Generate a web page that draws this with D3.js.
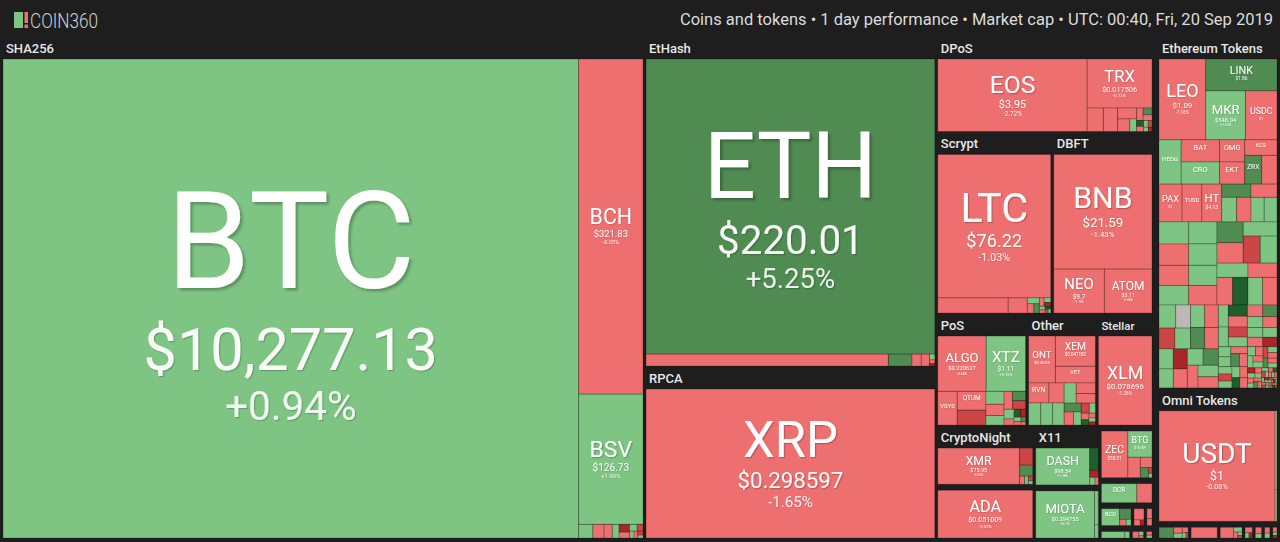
<!DOCTYPE html>
<html>
<head>
<meta charset="utf-8">
<script src="https://cdnjs.cloudflare.com/ajax/libs/d3/7.8.5/d3.min.js"></script>
<style>
html, body { margin: 0; padding: 0; background: #1d1e1d; }
svg { display: block; font-family: Roboto, "Noto Sans", sans-serif; }
</style>
</head>
<body>
<svg id="chart" width="1280" height="542">
  <defs>
    <filter id="ts-big" x="-10%" y="-10%" width="130%" height="140%"><feDropShadow dx="2.5" dy="2.5" stdDeviation="0.8" flood-color="#000" flood-opacity="0.25"/></filter>
    <filter id="ts-mid" x="-10%" y="-10%" width="130%" height="140%"><feDropShadow dx="1.2" dy="1.2" stdDeviation="0.5" flood-color="#000" flood-opacity="0.22"/></filter>
    <filter id="ts-small" x="-10%" y="-10%" width="130%" height="140%"><feDropShadow dx="0.6" dy="0.6" stdDeviation="0.3" flood-color="#000" flood-opacity="0.2"/></filter>
  </defs>
</svg>
<script>
/* coins: [symbol, tile weight (market cap share as drawn), 1 day change %, price $]
   tails: [tile weight, 1 day change %] for the small unnamed coins */
var sha256Coins = [["BTC", 270800, 0.94, 10277.13], ["BCH", 21200, -0.05, 321.83], ["BSV", 8240, 1.99, 126.73]];
var sha256Tail = [[190, 1.2], [150, -2.1], [110, -1.5], [90, 0.8], [80, -12.4], [60, -3.2], [50, 2.1], [40, -6.3], [30, 4.4], [25, -1.1], [20, -8.5], [15, 3.2]];

var ethashCoins = [["ETH", 83700, 5.25, 220.01], ["ETC", 2830, -1.8, 6.63]];
var ethashTail = [[276, 6.5], [108, -2.3], [96, -1.4], [30, 1.1], [20, -4.2], [12, -15.6]];

var rpcaCoins = [["XRP", 42250, -1.65, 0.298597]];

var dposCoins = [["EOS", 10660, -2.72, 3.95], ["TRX", 3130, -0.12, 0.017506], ["NANO", 374, -1.5, 0.93], ["BTS", 204, -1.9, 0.0352]];
var dposTail = [[330, -2.2], [150, -3.1], [84, 1.5], [80, -1.2], [60, 7.1], [50, -2.4], [40, 12.3], [35, -4.2], [30, 2.2], [25, -6.1], [20, 1.1], [15, -11.2]];

var scryptCoins = [["LTC", 15960, -1.03, 76.22]];
var scryptTail = [[1050, -1.2], [285, -0.9], [70, 2.1], [60, -3.1], [50, 8.2], [40, -1.3], [30, 1.5], [25, -12.1], [20, 3.3], [18, -2.2], [15, 11.4], [12, -6.2], [10, 2.4]];

var dbftCoins = [["BNB", 11090, -1.43, 21.59], ["NEO", 2190, -1.9, 9.7], ["ATOM", 2060, -0.85, 3.11]];

var posCoins = [["ALGO", 2640, -4.68, 0.220627], ["XTZ", 2145, 3.15, 1.11], ["VSYS", 646, -2.4, 0.1959], ["QTUM", 532, -1.4, 2.19]];
var posTail = [[420, -7.2], [230, 2.1], [200, -1.5], [170, 4.2], [150, -3.1], [120, 9.1], [110, -8.2], [95, 1.1], [60, -2.1], [50, 12.2], [40, -13.1], [30, 2.3], [25, -4.4], [20, 6.1], [15, -1.2]];

var otherCoins = [["ONT", 1240, -1.35, 0.8293], ["XEM", 1190, -1.95, 0.047182], ["VET", 656, -1.96, 0.003952], ["RVN", 400, -2.6, 0.0371]];
var otherTail = [[300, -1.1], [264, 1.8], [260, 2.3], [250, 0.6], [240, 1.2], [200, -3.1], [180, -2.2], [150, 8.1], [120, -1.4], [100, 3.2], [80, -9.1], [60, 1.3], [50, -4.2], [40, 14.1], [30, -2.3], [25, 2.2], [20, -12.2]];

var stellarCoins = [["XLM", 4700, -1.28, 0.078696]];

var cryptonightCoins = [["XMR", 2916, -3.06, 75.95]];
var cryptonightTail = [[221, -6.3], [143, 6.2], [40, -2.1], [30, 1.2], [20, -8.1], [15, 3.1]];

var adaCoins = [["ADA", 4470, -2.02, 0.051009]];

var x11Coins = [["DASH", 1960, 1.38, 98.54]];
var x11Tail = [[190, 13.2], [60, -11.1], [40, 2.2], [25, -3.3]];

var iotaCoins = [["MIOTA", 2726, 0.1, 0.294755]];
var iotaTail = [[130, 0.8], [50, 2.1]];

var equihashCoins = [["ZEC", 1222, -1.1, 55.91], ["BTG", 624, 2, 10.89]];
var equihashTail = [[252, -1.3], [120, -2.2], [80, 6.1], [20, -9.2], [15, 2.1]];

var decredCoins = [["DCR", 665, 1.72, 23.49]];
var decredTail = [[285, -1.5]];

var x13Coins = [["BCD", 304, 1.2, 0.63]];
var x13Tail = [[120, 7.1], [40, -2.3], [30, 1.1]];
var lyraTail = [[110, -1.6], [35, -2.2], [20, -11.4]];
var groestlTail = [[50, -1.3], [34, -2.1]];
var quarkTail = [[150, 1.5], [30, 0.6]];
var neoscryptTail = [[40, -2.1], [20, 3.2], [10, -1.1]];
var lyra2zTail = [[20, -1.4], [15, 2.2]];

var erc20Top = [["LEO", 3726, -1.16, 1.09], ["LINK", 2240, 6.78, 1.86], ["MKR", 1911, 1.52, 548.04], ["USDC", 1519, -0.1, 1]];
var erc20Mid = [["HEDG", 968, 0.55, 1.39], ["BAT", 836, -0.55, 0.206868], ["CRO", 836, 1.55, 0.039289],
  ["OMG", 550, -1.24, 1.12], ["EKT", 550, -1.02, 0.0143], ["KCS", 495, -1.8, 1.11], ["ZRX", 480, 7.3, 0.245]];
var erc20MidTail = [[435, -1.7]];
var erc20Low = [["PAX", 860, -0.03, 1], ["TUSD", 740, -0.09, 1], ["HT", 740, -0.87, 4.13]];
var erc20LowTail = [[380, 6.2], [360, 1.4], [350, -1.3], [340, -2.1], [320, 1.9], [310, 0.8]];
var erc20Tail = [
  [646, 1.3], [624, -1.7], [611, 2.6], [597, 0.8], [588, -2.9], [572, 3.4], [561, 1.9], [545, -0.6], [538, 6.3], [527, -1.2],
  [469, 2.8], [454, -7.5], [446, 0.9], [438, 1.6], [426, -2.3], [417, 11.4], [409, -0.4], [398, 4.2], [390, -1.9], [381, 1.1],
  [336, 0], [327, -6.8], [321, 2.2], [312, 1.4], [305, -3.1], [298, 8.3], [289, -0.8], [283, 0.5], [276, -12.6], [268, 3.7],
  [261, -1.3], [253, 1.9], [247, 6.9], [238, -2.6], [231, 0.3], [223, -4.4], [217, 2.9], [209, 14.2], [202, -0.9], [194, 1.6],
  [188, -8.1], [181, 2.5], [176, -1.7], [167, 0.8], [162, 5.6], [154, -3.5], [148, 1.3], [143, -0.2], [136, 3.1], [131, -10.4],
  [124, 0.6], [119, 2.1], [114, -2.4], [109, 7.7], [104, -1.2], [99, 1.7], [95, -5.3], [91, 0.4], [87, 2.6], [84, -1.8],
  [79, 12.1], [77, -0.7], [72, 1.0], [69, -3.8], [64, 4.5], [61, -1.5], [58, 0.2], [55, -6.2], [52, 2.8], [49, -0.5],
  [47, 9.4], [44, -2.1], [42, 1.4], [39, -14.8], [37, 0.9], [35, -1.0], [33, 3.4], [31, -4.1], [29, 1.2], [27, -0.3],
  [26, 6.3], [24, -2.7], [23, 0.7], [21, -9.2], [20, 2.0], [19, -1.4], [17, 15.3], [16, -0.6], [15, 1.8], [14, -3.3],
  [13, 0.4], [12, -11.1], [11, 2.2], [10, -1.9], [10, 5.1], [9, -0.8], [9, 1.1], [8, -6.6], [8, 3.0], [7, -2.3],
  [7, 1.5], [7, -12.4], [6, 0.9], [6, -1.6], [6, 7.2], [6, -3.9], [5, 2.4], [5, -0.7], [5, 11.8], [5, -5.5]
];

var omniCoins = [["USDT", 12630, -0.08, 1]];
var omniTail = [[150, 0.5], [60, 1.2]];

var tronTail = [[155, 6.1], [50, -2.2], [40, 1.5], [30, -1.1], [20, 3.2], [12, -8.3]];
var bep2Tail = [[275, -1.4]];
var wavesTail = [[140, -1.6], [40, 2.1], [25, -3.2], [15, 1.1], [10, -9.4]];
var neoTokTail = [[40, -2.2], [20, 3.1], [17, -12.3]];
var eosTokTail = [[40, -1.5], [26, 1.1]];
var qtumTokTail = [[30, -3.1], [25, 2.2]];
var ontTokTail = [[20, -1.2], [14, 4.1], [10, -10.2]];

var headerText = "Coins and tokens \u2022 1 day performance \u2022 Market cap \u2022 UTC: 00:40, Fri, 20 Sep 2019";

/* ---------- build the hierarchy ---------- */
function leavesOf(coins, tail) {
  var kids = (coins || []).map(function (c) { return { name: c[0], value: c[1], change: c[2], price: c[3] }; })
    .concat((tail || []).map(function (t) { return { value: t[0], change: t[1] }; }));
  kids.sort(function (a, b) { return b.value - a.value; });
  return kids;
}
function group(name, coins, tail, labeled) {
  return { name: name, group: true, labeled: labeled, children: leavesOf(coins, tail) };
}
// a group whose coins come in bands stacked top to bottom
function stackGroup(name, bands, labeled) {
  return { name: name, group: true, labeled: labeled, stack: true,
    children: bands.map(function (b) { return { children: leavesOf(b[0], b[1]) }; }) };
}
function box(dir, children, pad) { return { dir: dir, children: children, pad: pad }; }

var tree = box("h", [
  group("SHA256", sha256Coins, sha256Tail, true),
  box("v", [group("EtHash", ethashCoins, ethashTail, true), group("RPCA", rpcaCoins, null, true)]),
  box("h", [
    box("v", [
      group("DPoS", dposCoins, dposTail, true),
      box("h", [group("Scrypt", scryptCoins, scryptTail, true), group("DBFT", dbftCoins, null, true)]),
      box("h", [group("PoS", posCoins, posTail, true), group("Other", otherCoins, otherTail, true), group("Stellar", stellarCoins, null, true)]),
      box("h", [
        box("v", [group("CryptoNight", cryptonightCoins, cryptonightTail, true), group("Ouroboros", adaCoins, null, false)]),
        box("v", [group("X11", x11Coins, x11Tail, true), group("Tangle", iotaCoins, iotaTail, false)]),
        box("v", [
          group("Equihash", equihashCoins, equihashTail, false),
          group("Blake256", decredCoins, decredTail, false),
          box("h", [group("X13", x13Coins, x13Tail, false), group("Lyra2REv3", null, lyraTail, false), group("Groestl", null, groestlTail, false)]),
          box("h", [group("Quark", null, quarkTail, false), group("NeoScrypt", null, neoscryptTail, false), group("Lyra2Z", null, lyra2zTail, false)])
        ])
      ])
    ]),
    box("v", [
      stackGroup("Ethereum Tokens", [[erc20Top, null], [erc20Mid, erc20MidTail], [erc20Low, erc20LowTail], [null, erc20Tail]], true),
      group("Omni Tokens", omniCoins, omniTail, true),
      box("h", [group("TRON Tokens", null, tronTail, false), group("BEP2", null, bep2Tail, false), group("Waves Tokens", null, wavesTail, false),
        group("NEO Tokens", null, neoTokTail, false), group("EOS Tokens", null, eosTokTail, false), group("Qtum Tokens", null, qtumTokTail, false),
        group("Ontology Tokens", null, ontTokTail, false)])
    ])
  ], 7)
]);

var W = 1274, H = 499;
function innerPad(n) { return n.data.dir ? (n.data.pad || 3) : 0; }
function topPad(n) { return n.data.group ? (n.data.labeled ? 20 : 3) : 0; }

var root = d3.hierarchy(tree).sum(function (d) { return d.children ? 0 : d.value; });

// fixed pixels (labels, gaps) each node spends outside its cells
root.eachAfter(function (n) {
  if (!n.children) { n.oh = { w: 0, h: 0 }; return; }
  if (!n.data.dir) { n.oh = { w: 0, h: topPad(n) }; return; }
  var P = innerPad(n), k = n.children, gaps = P * (k.length - 1);
  var avg = function (f) { return d3.sum(k, function (c) { return f(c) * c.value; }) / n.value; };
  if (n.data.dir === "v") n.oh = { w: avg(function (c) { return c.oh.w; }), h: d3.sum(k, function (c) { return c.oh.h; }) + gaps };
  else n.oh = { w: d3.sum(k, function (c) { return c.oh.w; }) + gaps, h: avg(function (c) { return c.oh.h; }) };
});

// slice / dice that keeps cell areas proportional after labels and gaps are taken out
function tile(node, x0, y0, x1, y1) {
  if (node.data.stack) return d3.treemapSlice(node, x0, y0, x1, y1);
  if (!node.data.dir) return d3.treemapBinary(node, x0, y0, x1, y1);
  var P = innerPad(node), kids = node.children, vert = node.data.dir === "v";
  var cross = (vert ? x1 - x0 : y1 - y0) - P;
  var fixed = kids.map(function (k) { return (vert ? k.oh.h : k.oh.w) + P; });
  var wts = kids.map(function (k) { return k.value / Math.max(1, cross - (vert ? k.oh.w : k.oh.h)); });
  var free = (vert ? y1 - y0 : x1 - x0) - d3.sum(fixed), tw = d3.sum(wts);
  var pos = vert ? y0 : x0;
  kids.forEach(function (k, i) {
    var len = fixed[i] + free * wts[i] / tw;
    if (vert) { k.x0 = x0; k.x1 = x1; k.y0 = pos; k.y1 = pos + len; }
    else { k.y0 = y0; k.y1 = y1; k.x0 = pos; k.x1 = pos + len; }
    pos += len;
  });
}

d3.treemap().tile(tile).size([W, H]).paddingInner(innerPad).paddingTop(topPad)(root);

/* ---------- draw ---------- */
var svg = d3.select("#chart");
var color = d3.scaleThreshold().domain([-10, -5, 0, 5, 10])
  .range(["#a8262a", "#cc4646", "#ee6f6f", "#7ec483", "#508b52", "#1f5f2c"]);
var fmt = d3.format(",");
var ctx = document.createElement("canvas").getContext("2d");
function textW(str, size, weight) {
  ctx.font = (weight || 400) + " " + size + "px Roboto";
  return ctx.measureText(str).width;
}

// header
var head = svg.append("g");
head.append("rect").attr("x", 14).attr("y", 12).attr("width", 9).attr("height", 16).attr("fill", "#7ec483");
head.append("rect").attr("x", 24.5).attr("y", 12).attr("width", 3.5).attr("height", 11).attr("fill", "#ee6f6f");
head.append("rect").attr("x", 24.5).attr("y", 24.5).attr("width", 3.5).attr("height", 3.5).attr("fill", "#ee6f6f");
head.append("text").attr("x", 30).attr("y", 28).attr("font-size", 21).attr("font-weight", 300)
  .attr("fill", "#d0d0d0").attr("textLength", 68).attr("lengthAdjust", "spacingAndGlyphs").text("COIN360");
head.append("text").attr("x", 1273).attr("y", 25).attr("text-anchor", "end").attr("font-size", 16.5)
  .attr("fill", "#dcdcdc").text(headerText);

var g = svg.append("g").attr("transform", "translate(3,39)");

// group labels
var groupNodes = root.descendants().filter(function (d) { return d.data.group && d.data.labeled; });
g.selectAll("text.glabel").data(groupNodes).join("text")
  .attr("class", "glabel")
  .attr("x", function (d) { return d.x0 + 3; })
  .attr("y", function (d) { return d.y0 + 14; })
  .attr("font-size", function (d) { return Math.min(13, (d.x1 - d.x0) * 0.215); })
  .attr("font-weight", 500)
  .attr("fill", "#e8e8e8")
  .text(function (d) { return d.data.name; });

// cells
var leaves = root.leaves();
g.selectAll("rect.cell").data(leaves).join("rect")
  .attr("class", "cell")
  .attr("x", function (d) { return d.x0; })
  .attr("y", function (d) { return d.y0; })
  .attr("width", function (d) { return Math.max(0, d.x1 - d.x0); })
  .attr("height", function (d) { return Math.max(0, d.y1 - d.y0); })
  .attr("fill", function (d) { return d.data.change === 0 ? "#bdb8b8" : color(d.data.change); })
  .attr("stroke", "rgba(0,0,0,0.22)")
  .attr("stroke-width", 1);

// cell labels
function addText(sel, x, y, size, str, op) {
  sel.append("text").attr("x", x).attr("y", y).attr("font-size", size)
    .attr("text-anchor", "middle").attr("fill", "#fff").attr("fill-opacity", op)
    .attr("filter", size > 60 ? "url(#ts-big)" : size > 22 ? "url(#ts-mid)" : "url(#ts-small)")
    .text(str);
}

var labelLayer = g.append("g");
leaves.filter(function (d) { return d.data.name; }).forEach(function (d) {
  var w = d.x1 - d.x0, h = d.y1 - d.y0;
  var sym = d.data.name;
  var frac = w > 100 ? 0.6 : 0.6 + (100 - w) / 100 * 0.17;
  var s = Math.min(100 * frac * w / textW(sym, 100), 0.34 * h, 135);
  if (s < 4.8) return;
  var price = "$" + fmt(d.data.price);
  var pct = (d.data.change > 0 ? "+" : "") + d.data.change + "%";
  var pf = Math.min(0.44 * s, 88 * w / textW(price, 100));
  var qf = Math.min((s > 50 ? 0.3 : 0.26) * s, 88 * w / textW(pct, 100));
  var d2 = 0.2 * s + 0.93 * pf, d3g = 0.2 * pf + 0.93 * qf;
  var T = 0.72 * s + d2 + d3g;
  var cx = (d.x0 + d.x1) / 2;
  var b1 = (d.y0 + d.y1) / 2 - T / 2 + 0.72 * s + Math.max(0, (s - 50) * 0.08);
  var cell = labelLayer.append("g");
  addText(cell, cx, b1, s, sym, 1);
  if (pf >= 3.5) addText(cell, cx, b1 + d2, pf, price, 0.95);
  if (qf >= 3) addText(cell, cx, b1 + d2 + d3g, qf, pct, 0.88);
});
</script>
</body>
</html>
